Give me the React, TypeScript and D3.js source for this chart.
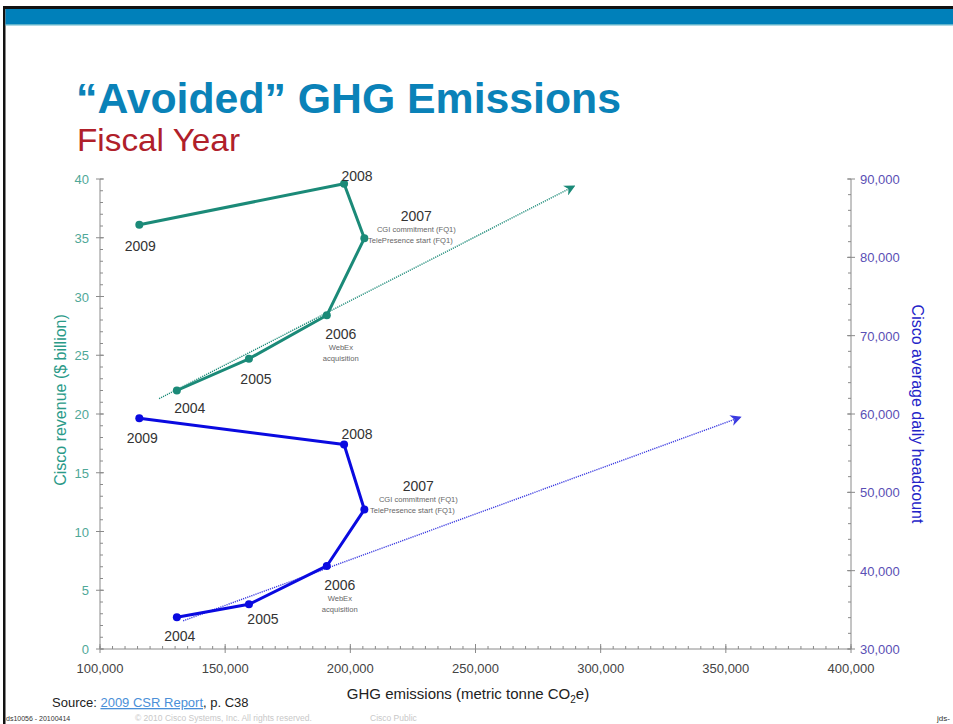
import React from "react";
import * as d3 from "d3";

const years = ["2004", "2005", "2006", "2007", "2008", "2009"];
const ghgEmissions = [130700, 159500, 190600, 205600, 197500, 115700];
const revenue = [22.0, 24.7, 28.4, 34.95, 39.6, 36.1];
const headcount = [34050, 35700, 40600, 47800, 56100, 59450];
const revenueTrendX = [123600, 289500];
const revenueTrendY = [21.3, 39.4];
const headcountTrendX = [133200, 355900];
const headcountTrendY = [33600, 59600];
const xTicks = [100000, 150000, 200000, 250000, 300000, 350000, 400000];
const leftTicks = [0, 5, 10, 15, 20, 25, 30, 35, 40];
const rightTicks = [30000, 40000, 50000, 60000, 70000, 80000, 90000];
const notes2007 = ["CGI commitment (FQ1)", "TelePresence start (FQ1)"];
const notes2006 = ["WebEx", "acquisition"];

// label offsets (layout only)
const tealOffsets: Record<string, [number, number]> = {
  "2004": [13, 17], "2005": [7, 20], "2006": [14, 19], "2007": [52, -22], "2008": [13, -8], "2009": [1, 21],
};
const blueOffsets: Record<string, [number, number]> = {
  "2004": [3, 19], "2005": [14, 15], "2006": [13, 19], "2007": [54, -24], "2008": [13, -11], "2009": [3, 20],
};

const TEAL = "#1b8a78";
const BLUE = "#0a0ae0";
const FONT = "Liberation Sans, Arial, sans-serif";

export default function App() {
  const x = d3.scaleLinear().domain([100000, 400000]).range([100, 851]);
  const yL = d3.scaleLinear().domain([0, 40]).range([649, 179]);
  const yR = d3.scaleLinear().domain([30000, 90000]).range([649, 179]);
  const axisColor = "#8a8a8a";

  const lineL = d3.line<number>().x((_, i) => x(ghgEmissions[i])).y((d) => yL(d));
  const lineR = d3.line<number>().x((_, i) => x(ghgEmissions[i])).y((d) => yR(d));

  const xMinor = d3.range(100000, 400001, 5000);
  const lMinor = d3.range(0, 40.01, 1);
  const rMinor = d3.range(30000, 90001, 2000);

  const renderLabels = (vals: number[], yS: (v: number) => number, offs: Record<string, [number, number]>) =>
    years.map((yr, i) => {
      const px = x(ghgEmissions[i]);
      const py = yS(vals[i]);
      const [dx, dy] = offs[yr];
      const cx = px + dx;
      const cy = py + dy;
      return (
        <g key={yr}>
          <text x={cx} y={cy + 5} textAnchor="middle" fontSize={14} fill="#333" fontFamily={FONT}>{yr}</text>
          {yr === "2007" &&
            notes2007.map((n, j) => (
              <text key={n} x={cx - (j === 1 ? 6 : 0)} y={cy + 16 + j * 11} textAnchor="middle" fontSize={7.6} fill="#666" fontFamily={FONT}>{n}</text>
            ))}
          {yr === "2006" &&
            notes2006.map((n, j) => (
              <text key={n} x={cx} y={cy + 16 + j * 11} textAnchor="middle" fontSize={7.6} fill="#666" fontFamily={FONT}>{n}</text>
            ))}
        </g>
      );
    });

  return (
    <svg width={953} height={724} style={{ position: "absolute", left: 0, top: 0, background: "#fff" }}>
      <defs>
        <marker id="arrT" viewBox="0 0 10 10" refX="9" refY="5" markerWidth="11" markerHeight="11" orient="auto" markerUnits="userSpaceOnUse">
          <path d="M0,0 L10,5 L0,10 L3,5 Z" fill={TEAL} />
        </marker>
        <marker id="arrB" viewBox="0 0 10 10" refX="9" refY="5" markerWidth="11" markerHeight="11" orient="auto" markerUnits="userSpaceOnUse">
          <path d="M0,0 L10,5 L0,10 L3,5 Z" fill="#3a3ae0" />
        </marker>
      </defs>
      {/* frame */}
      <rect x={0} y={0} width={953} height={724} fill="#fff" />
      <rect x={3} y={6} width={950} height={3} fill="#111" />
      <rect x={3} y={6} width={2.5} height={718} fill="#111" />
      <rect x={5.5} y={9} width={948} height={16} fill="#0080ba" />
      <rect x={5.5} y={24} width={948} height={1.5} fill="#5fb3cc" />

      {/* titles */}
      <text x={76} y={113} fontSize={42} fontWeight="bold" fill="#0a82b8" fontFamily={FONT} textLength={545} lengthAdjust="spacingAndGlyphs">“Avoided” GHG Emissions</text>
      <text x={77} y={151} fontSize={32} fill="#b0202a" fontFamily={FONT} textLength={163} lengthAdjust="spacingAndGlyphs">Fiscal Year</text>

      {/* axes */}
      <line x1={100} x2={100} y1={yL(40)} y2={yL(0)} stroke={axisColor} />
      <line x1={851} x2={851} y1={yR(90000)} y2={yR(30000)} stroke={axisColor} />
      <line x1={100} x2={851} y1={649} y2={649} stroke={axisColor} />
      {lMinor.map((v) => (
        <line key={"lm" + v} x1={100} x2={103} y1={yL(v)} y2={yL(v)} stroke={axisColor} />
      ))}
      {leftTicks.map((v) => (
        <g key={"l" + v}>
          <line x1={96} x2={104} y1={yL(v)} y2={yL(v)} stroke={axisColor} />
          <text x={89} y={yL(v) + 5} textAnchor="end" fontSize={13} fill="#4fa898" fontFamily={FONT}>{v}</text>
        </g>
      ))}
      {rMinor.map((v) => (
        <line key={"rm" + v} x1={848} x2={851} y1={yR(v)} y2={yR(v)} stroke={axisColor} />
      ))}
      {rightTicks.map((v) => (
        <g key={"r" + v}>
          <line x1={847} x2={855} y1={yR(v)} y2={yR(v)} stroke={axisColor} />
          <text x={860} y={yR(v) + 5} fontSize={13} fill="#5a4fb5" fontFamily={FONT}>{d3.format(",")(v)}</text>
        </g>
      ))}
      {xMinor.map((v) => (
        <line key={"xm" + v} x1={x(v)} x2={x(v)} y1={646} y2={649} stroke={axisColor} />
      ))}
      {xTicks.map((v) => (
        <g key={"x" + v}>
          <line x1={x(v)} x2={x(v)} y1={644} y2={653} stroke={axisColor} />
          <text x={x(v)} y={673} textAnchor="middle" fontSize={13} fill="#444" fontFamily={FONT}>{d3.format(",")(v)}</text>
        </g>
      ))}

      {/* axis titles */}
      <text transform="translate(66,400) rotate(-90)" textAnchor="middle" fontSize={16} fill="#2a9a88" fontFamily={FONT}>Cisco revenue ($ billion)</text>
      <text transform="translate(912,414) rotate(90)" textAnchor="middle" fontSize={16} fill="#2323c8" fontFamily={FONT}>Cisco average daily headcount</text>
      <text x={468} y={699} textAnchor="middle" fontSize={15} fill="#222" fontFamily={FONT}>
        GHG emissions (metric tonne CO<tspan fontSize={10} dy={4}>2</tspan><tspan dy={-4}>e)</tspan>
      </text>

      {/* trend lines */}
      <line x1={x(revenueTrendX[0])} y1={yL(revenueTrendY[0])} x2={x(revenueTrendX[1])} y2={yL(revenueTrendY[1])}
        stroke={TEAL} strokeWidth={1.4} strokeDasharray="1.2,1" markerEnd="url(#arrT)" />
      <line x1={x(headcountTrendX[0])} y1={yR(headcountTrendY[0])} x2={x(headcountTrendX[1])} y2={yR(headcountTrendY[1])}
        stroke="#3a3ae0" strokeWidth={1.4} strokeDasharray="1.2,1" markerEnd="url(#arrB)" />

      {/* series */}
      <path d={lineL(revenue) || ""} fill="none" stroke={TEAL} strokeWidth={3} strokeLinejoin="round" />
      {revenue.map((v, i) => (
        <circle key={"tc" + i} cx={x(ghgEmissions[i])} cy={yL(v)} r={4} fill={TEAL} />
      ))}
      <path d={lineR(headcount) || ""} fill="none" stroke={BLUE} strokeWidth={3} strokeLinejoin="round" />
      {headcount.map((v, i) => (
        <circle key={"bc" + i} cx={x(ghgEmissions[i])} cy={yR(v)} r={4} fill={BLUE} />
      ))}

      {renderLabels(revenue, yL, tealOffsets)}
      {renderLabels(headcount, yR, blueOffsets)}

      {/* source and footer */}
      <text x={52} y={707} fontSize={13} fill="#222" fontFamily={FONT}>
        Source: <tspan fill="#4a8fd8" textDecoration="underline">2009 CSR Report</tspan>, p. C38
      </text>
      <text x={6} y={721} fontSize={7} fill="#333" fontFamily={FONT}>ds10056 - 20100414</text>
      <text x={135} y={721} fontSize={8.5} fill="#c8c8c8" fontFamily={FONT}>© 2010 Cisco Systems, Inc. All rights reserved.</text>
      <text x={370} y={721} fontSize={8.5} fill="#c8c8c8" fontFamily={FONT}>Cisco Public</text>
      <text x={937} y={721} fontSize={8} fill="#333" fontFamily={FONT}>jds-</text>
    </svg>
  );
}
